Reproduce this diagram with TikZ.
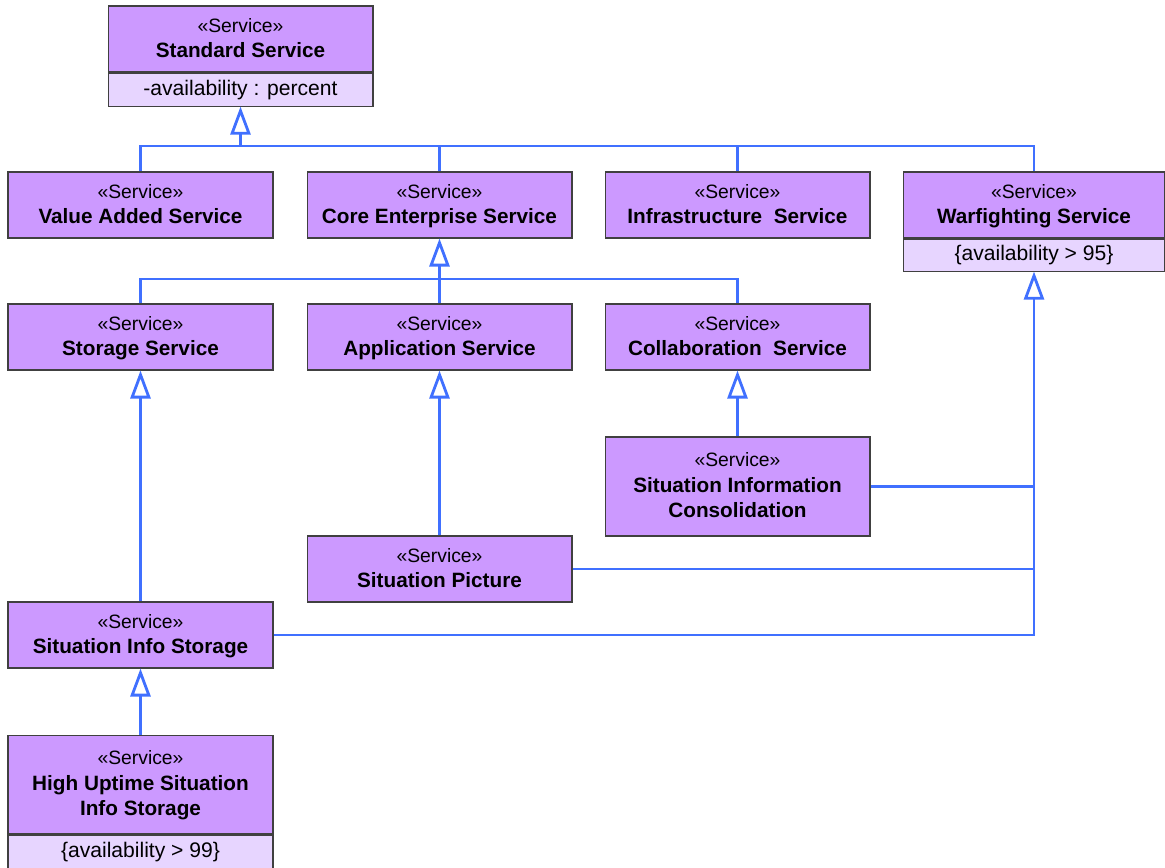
\documentclass[tikz,border=0pt]{standalone}
\usepackage{fontspec}
\setmainfont{Liberation Sans}
\usetikzlibrary{arrows.meta}
\definecolor{svcfill}{RGB}{204,153,255}
\definecolor{attfill}{RGB}{231,213,255}
\definecolor{genblue}{RGB}{64,112,255}
\newcommand{\stereo}{{\fontsize{11}{14.5}\selectfont «Service»}}
\newcommand{\svcname}[1]{{\fontsize{11.8}{14.5}\selectfont\bfseries #1}}

\begin{document}
\begin{tikzpicture}[x=0.02cm, y=-0.02cm,
        svc/.style={draw=black!75, fill=svcfill, minimum width=5.3cm, minimum height=1.32cm,
                    align=center, inner sep=0pt, line width=0.6pt, text depth=1.2pt,
                    font=\fontsize{11}{14.5}\selectfont},
        tall/.style={minimum height=1.98cm},
        att/.style={draw=black!75, fill=attfill, minimum width=5.3cm, minimum height=0.66cm,
                    anchor=north, inner sep=0pt, line width=0.6pt, font=\fontsize{12}{14}\selectfont},
        link/.style={genblue, line width=1.6pt},
        gen/.style={link, -{Triangle[open, length=0.56cm, width=0.4cm]}}]

    \useasboundingbox (0, 0) rectangle (1165, 867);

    % top level
    \node[svc] (std) at (240.5, 39) {\stereo\\ \svcname{Standard Service}};
    \node[att] (stdatt) at (std.south) {-availability : percent};

    % second row
    \node[svc] (vas) at (140.5, 205) {\stereo\\ \svcname{Value Added Service}};
    \node[svc] (ces) at (439.5, 205) {\stereo\\ \svcname{Core Enterprise Service}};
    \node[svc] (inf) at (737.5, 205) {\stereo\\ \svcname{Infrastructure~ Service}};
    \node[svc, minimum width=5.24cm] (war) at (1034, 205) {\stereo\\ \svcname{Warfighting Service}};
    \node[att, minimum width=5.24cm, minimum height=0.64cm] (waratt) at (war.south) {\{availability > 95\}};

    % third row
    \node[svc] (sto) at (140.5, 337) {\stereo\\ \svcname{Storage Service}};
    \node[svc] (app) at (439.5, 337) {\stereo\\ \svcname{Application Service}};
    \node[svc] (col) at (737.5, 337) {\stereo\\ \svcname{Collaboration~ Service}};

    % situation services
    \node[svc, tall] (sic) at (737.5, 486.5) {\stereo\\ \svcname{Situation Information}\\ \svcname{Consolidation}};
    \node[svc] (pic) at (439.5, 569) {\stereo\\ \svcname{Situation Picture}};
    \node[svc] (sis) at (140.5, 635) {\stereo\\ \svcname{Situation Info Storage}};
    \node[svc, tall] (hus) at (140.5, 784.5) {\stereo\\ \svcname{High Uptime Situation}\\ \svcname{Info Storage}};
    \node[att] (husatt) at (hus.south) {\{availability > 99\}};

    % generalizations to Standard Service
    \coordinate (stdbus) at (240.5, 146);
    \draw[link] (vas.north) |- (stdbus) -| (war.north);
    \draw[link] (ces.north) -- (ces.north |- stdbus);
    \draw[link] (inf.north) -- (inf.north |- stdbus);
    \draw[gen] (stdbus) -- (stdatt.south);

    % generalizations to Core Enterprise Service
    \coordinate (cesbus) at (439.5, 279);
    \draw[link] (sto.north) |- (cesbus) -| (col.north);
    \draw[gen] (app.north) -- (ces.south);

    % generalizations to Warfighting Service
    \draw[gen] (sis.east) -| (waratt.south);
    \draw[link] (pic.east) -- (pic.east -| waratt.south);
    \draw[link] (sic.east) -- (sic.east -| waratt.south);

    % single generalizations
    \draw[gen] (sis.north) -- (sto.south);
    \draw[gen] (pic.north) -- (app.south);
    \draw[gen] (sic.north) -- (col.south);
    \draw[gen] (hus.north) -- (sis.south);

\end{tikzpicture}
\end{document}
